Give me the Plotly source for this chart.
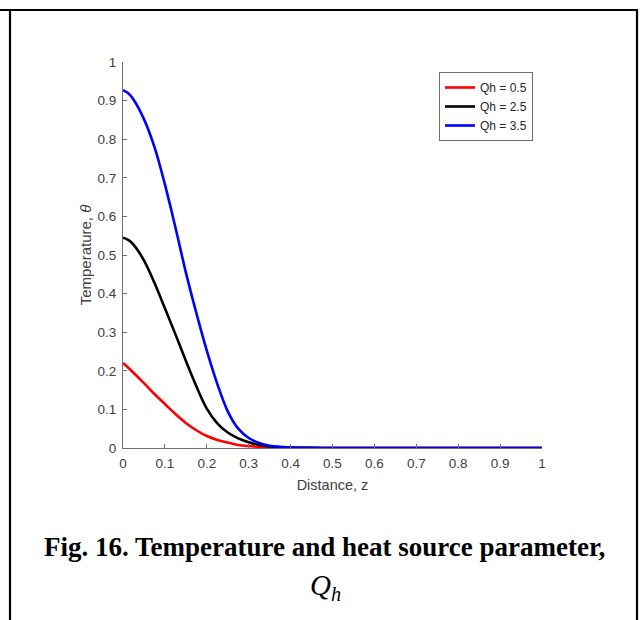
import plotly.graph_objects as go

# ---- data ----
z = [0.0, 0.0125, 0.025, 0.05, 0.075, 0.1, 0.125, 0.15, 0.175, 0.2, 0.225, 0.25, 0.275,
     0.3, 0.325, 0.35, 0.375, 0.4, 0.45, 0.5, 0.55, 0.6, 0.65, 0.7, 0.75, 0.8,
     0.85, 0.9, 0.95, 1.0]

theta_q05 = [0.220, 0.208, 0.195, 0.168, 0.140, 0.114, 0.088, 0.065, 0.046, 0.031, 0.021,
             0.014, 0.008, 0.005, 0.003, 0.0015, 0.0007, 0.0003, 0.0, 0.0, 0.0,
             0.0, 0.0, 0.0, 0.0, 0.0, 0.0, 0.0, 0.0, 0.0]
theta_q25 = [0.545, 0.539, 0.527, 0.486, 0.428, 0.362, 0.295, 0.226, 0.160, 0.102, 0.064,
             0.040, 0.025, 0.015, 0.008, 0.004, 0.002, 0.001, 0.0002, 0.0, 0.0,
             0.0, 0.0, 0.0, 0.0, 0.0, 0.0, 0.0, 0.0, 0.0]
theta_q35 = [0.927, 0.919, 0.903, 0.852, 0.780, 0.683, 0.572, 0.455, 0.350, 0.252, 0.166,
             0.095, 0.050, 0.026, 0.013, 0.006, 0.003, 0.001, 0.0002, 0.0, 0.0,
             0.0, 0.0, 0.0, 0.0, 0.0, 0.0, 0.0, 0.0, 0.0]

series_names = ["Qh = 0.5", "Qh = 2.5", "Qh = 3.5"]
series_values = [theta_q05, theta_q25, theta_q35]
series_colors = ["#ff0000", "#000000", "#0000ff"]

x_ticks = [0, 0.1, 0.2, 0.3, 0.4, 0.5, 0.6, 0.7, 0.8, 0.9, 1]
x_tick_labels = ["0", "0.1", "0.2", "0.3", "0.4", "0.5", "0.6", "0.7", "0.8", "0.9", "1"]
y_ticks = [0, 0.1, 0.2, 0.3, 0.4, 0.5, 0.6, 0.7, 0.8, 0.9, 1]
y_tick_labels = ["0", "0.1", "0.2", "0.3", "0.4", "0.5", "0.6", "0.7", "0.8", "0.9", "1"]

caption_line1 = "<b>Fig. 16. Temperature and heat source parameter,</b>"
caption_line2 = "<i>Q</i><sub><i>h</i></sub>"

# ---- layout geometry (pixels) ----
W, H = 640, 620
L, R, T, B = 123, 542, 62, 448


def px(xp):
    return (xp - L) / (R - L)


def py(yp):
    return (B - yp) / (B - T)


fig = go.Figure()
for name, vals, col in zip(series_names, series_values, series_colors):
    fig.add_trace(go.Scatter(x=z, y=vals, mode="lines", name=name,
                             line=dict(color=col, width=2.6, shape="spline", smoothing=1.0)))

axis_common = dict(showgrid=False, zeroline=False, showline=True, linecolor="#6e6e6e",
                   linewidth=1, ticks="inside", ticklen=4, tickcolor="#6e6e6e",
                   tickfont=dict(family="Liberation Sans, Arial", size=13.5, color="#404040"),
                   ticklabelstandoff=3, mirror=False)

fig.update_layout(
    width=W, height=H,
    margin=dict(l=L, r=W - R, t=T, b=H - B, pad=0),
    paper_bgcolor="white", plot_bgcolor="white",
    font=dict(family="Liberation Sans, Arial", color="#404040"),
    xaxis=dict(range=[0, 1], tickvals=x_ticks, ticktext=x_tick_labels,
               title=dict(text="Distance, z", font=dict(size=14.5, color="#404040"), standoff=9),
               **axis_common),
    yaxis=dict(range=[0, 1], tickvals=y_ticks, ticktext=y_tick_labels,
               title=dict(text="Temperature, <i>θ</i>", font=dict(size=15, color="#404040"), standoff=2),
               **axis_common),
    legend=dict(x=px(439), y=py(72), xanchor="left", yanchor="top",
                bordercolor="#6e6e6e", borderwidth=1, bgcolor="white",
                font=dict(family="Liberation Sans, Arial", size=12, color="#262626"),
                tracegroupgap=0, itemwidth=30),
    showlegend=True,
)

# frame lines around the figure
frame = dict(type="line", xref="paper", yref="paper", line=dict(color="black", width=2.2))
fig.add_shape(x0=px(0), x1=px(638), y0=py(10), y1=py(10), **frame)
fig.add_shape(x0=px(10), x1=px(10), y0=py(10), y1=py(621), **frame)
fig.add_shape(x0=px(637), x1=px(637), y0=py(10), y1=py(621), **frame)

# caption
fig.add_annotation(x=px(324), y=py(547), xref="paper", yref="paper", text=caption_line1,
                   showarrow=False, xanchor="center", yanchor="middle",
                   font=dict(family="Liberation Serif, Times New Roman", size=27, color="black"))
fig.add_annotation(x=px(325), y=py(587), xref="paper", yref="paper", text=caption_line2,
                   showarrow=False, xanchor="center", yanchor="middle",
                   font=dict(family="Liberation Serif, Times New Roman", size=29, color="black"))

fig.write_html("out.html")
